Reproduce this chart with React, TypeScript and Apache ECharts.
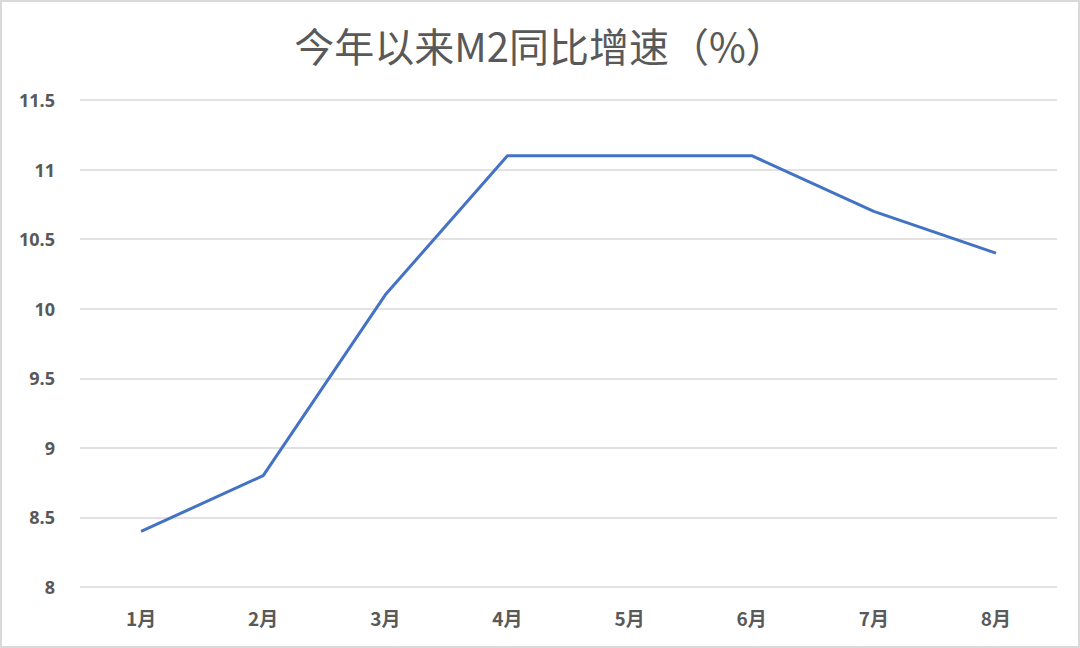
import React, { useRef, useEffect } from 'react';
import * as echarts from 'echarts';

const months = ['1月', '2月', '3月', '4月', '5月', '6月', '7月', '8月'];
const m2Growth = [8.4, 8.8, 10.1, 11.1, 11.1, 11.1, 10.7, 10.4];
const chartTitle = '今年以来M2同比增速（%）';

const App: React.FC = () => {
  const chartRef = useRef<HTMLDivElement>(null);

  useEffect(() => {
    document.body.style.margin = '0';
    if (!chartRef.current) return;
    const chart = echarts.init(chartRef.current, undefined, { renderer: 'svg' });

    chart.setOption({
      animation: false,
      backgroundColor: '#ffffff',
      title: {
        text: chartTitle,
        left: 'center',
        top: 20,
        textStyle: {
          fontFamily: 'Noto Sans CJK SC',
          fontSize: 40,
          fontWeight: 'normal',
          color: '#595959',
        },
      },
      graphic: [
        {
          type: 'rect',
          shape: { x: 1, y: 1, width: 1078, height: 646 },
          style: { fill: 'none', stroke: '#d9d9d9', lineWidth: 2 },
          silent: true,
        },
      ],
      grid: { left: 80, right: 23, top: 100, bottom: 61 },
      xAxis: {
        type: 'category',
        data: months,
        boundaryGap: true,
        axisLine: { show: false },
        axisTick: { show: false },
        axisLabel: {
          margin: 21,
          fontFamily: 'Noto Sans CJK SC',
          fontSize: 19,
          fontWeight: 'bold',
          color: '#595959',
        },
      },
      yAxis: {
        type: 'value',
        min: 8,
        max: 11.5,
        interval: 0.5,
        axisLine: { show: false },
        axisTick: { show: false },
        splitLine: { lineStyle: { color: '#d9d9d9', width: 1.5 } },
        axisLabel: {
          margin: 25,
          fontFamily: 'Open Sans',
          fontSize: 18,
          fontWeight: 'bold',
          color: '#595959',
        },
      },
      series: [
        {
          type: 'line',
          data: m2Growth,
          symbol: 'none',
          lineStyle: { color: '#4472c4', width: 3 },
        },
      ],
    });

    return () => {
      chart.dispose();
    };
  }, []);

  return <div ref={chartRef} style={{ width: 1080, height: 648 }} />;
};

export default App;
